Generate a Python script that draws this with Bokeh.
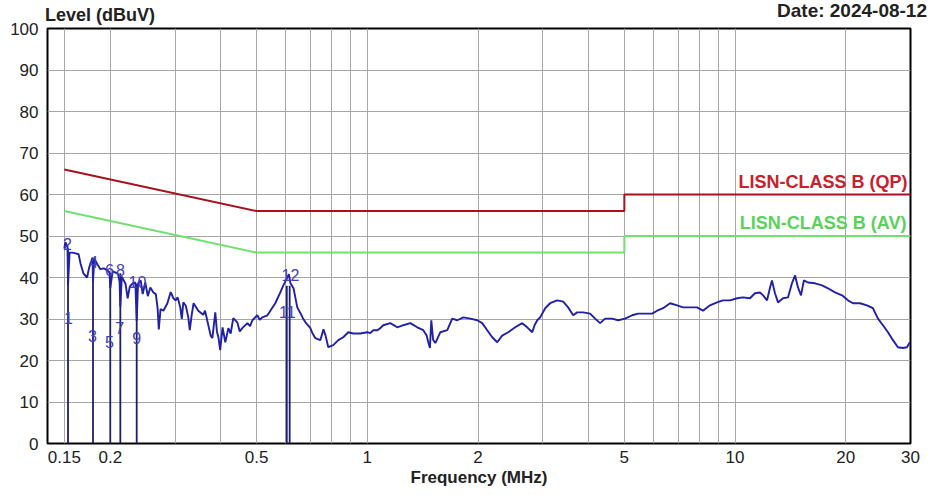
from bokeh.plotting import figure
from bokeh.layouts import column
from bokeh.models import (Range1d, FixedTicker, CustomJSTickFormatter, Label,
                          ColumnDataSource, Div)
from bokeh.core.properties import value
from bokeh.embed import file_html
from bokeh.resources import INLINE

# ---------------- data ----------------
y_title = "Level (dBuV)"
date_text = "Date: 2024-08-12"
x_title = "Frequency (MHz)"
qp_name = "LISN-CLASS B (QP)"
av_name = "LISN-CLASS B (AV)"

x_tick_values = [0.15, 0.2, 0.5, 1, 2, 5, 10, 20, 30]
x_grid_values = [0.15, 0.2, 0.3, 0.4, 0.5, 0.6, 0.7, 0.8, 0.9, 1, 2, 3, 4, 5,
                 6, 7, 8, 9, 10, 20, 30]
y_tick_values = [0, 10, 20, 30, 40, 50, 60, 70, 80, 90, 100]
y_grid_values = [10, 20, 30, 40, 50, 60, 70, 80, 90]

qp_freq = [0.15, 0.5, 5, 5, 30]
qp_level = [66, 56, 56, 60, 60]
av_freq = [0.15, 0.5, 5, 5, 30]
av_level = [56, 46, 46, 50, 50]

trace_freq = [
    0.150, 0.151, 0.153, 0.1535, 0.155, 0.158, 0.161, 0.164, 0.166, 0.169,
    0.173, 0.175, 0.177, 0.179, 0.1795, 0.181, 0.185, 0.188, 0.192, 0.196,
    0.199, 0.200, 0.203, 0.207, 0.210, 0.212, 0.213, 0.215, 0.220, 0.223,
    0.226, 0.230, 0.234, 0.236, 0.238, 0.242, 0.245, 0.249, 0.253, 0.257,
    0.262, 0.266, 0.269, 0.271, 0.274, 0.279, 0.286, 0.292, 0.297, 0.301,
    0.305, 0.310, 0.313, 0.316, 0.321, 0.326, 0.329, 0.333, 0.337, 0.347,
    0.358, 0.362, 0.368, 0.375, 0.379, 0.386, 0.390, 0.394, 0.398, 0.404,
    0.411, 0.419, 0.425, 0.432, 0.443, 0.450, 0.457, 0.472, 0.480, 0.487,
    0.502, 0.510, 0.518, 0.535, 0.545, 0.562, 0.580, 0.591, 0.600, 0.606,
    0.612, 0.618, 0.630, 0.645, 0.658, 0.668, 0.679, 0.700, 0.710, 0.722,
    0.745, 0.760, 0.770, 0.783, 0.808, 0.834, 0.860, 0.888, 0.916, 0.957,
    1.000, 1.019, 1.038, 1.065, 1.085, 1.105, 1.155, 1.206, 1.253, 1.309,
    1.367, 1.420, 1.450, 1.465, 1.480, 1.493, 1.510, 1.531, 1.579, 1.650,
    1.702, 1.757, 1.824, 1.905, 1.991, 2.053, 2.119, 2.186, 2.256, 2.327,
    2.416, 2.525, 2.638, 2.722, 2.808, 2.850, 2.898, 2.952, 3.046, 3.142,
    3.283, 3.409, 3.517, 3.629, 3.721, 3.863, 4.035, 4.164, 4.296, 4.432,
    4.631, 4.808, 5.024, 5.250, 5.451, 5.694, 5.950, 6.139, 6.373, 6.659,
    6.957, 7.224, 7.551, 7.881, 8.181, 8.548, 8.932, 9.273, 9.692, 10.13,
    10.51, 10.98, 11.33, 11.69, 11.92, 12.22, 12.45, 12.60, 12.84, 13.09,
    13.50, 13.93, 14.28, 14.56, 14.83, 15.11, 15.39, 15.79, 16.50, 17.24,
    17.89, 18.70, 19.54, 20.28, 20.93, 21.87, 22.84, 23.71, 24.47, 25.25,
    26.05, 26.88, 27.73, 28.61, 29.34, 29.89,
]
trace_level = [
    47.0, 48.5, 47.5, 38.0, 46.0, 46.0, 45.8, 45.6, 43.4, 41.0,
    40.0, 42.2, 43.6, 44.8, 39.0, 44.5, 43.0, 42.0, 42.2, 41.8,
    41.2, 37.5, 41.5, 41.2, 40.8, 39.0, 33.0, 40.2, 38.5, 35.0,
    37.8, 38.6, 38.8, 29.5, 38.6, 39.3, 36.0, 38.8, 35.5, 37.6,
    36.4, 36.0, 32.6, 27.5, 32.4, 32.0, 33.8, 36.5, 35.0, 34.5,
    35.2, 32.8, 30.0, 34.0, 33.2, 30.4, 27.3, 31.0, 33.8, 32.0,
    31.0, 32.0, 29.2, 26.0, 25.4, 31.6, 27.0, 25.4, 22.5, 28.0,
    24.4, 27.8, 26.5, 30.2, 29.2, 27.0, 27.8, 29.0, 28.3, 29.7,
    30.9, 29.8, 30.4, 30.9, 32.0, 33.8, 36.4, 38.1, 39.2, 40.0,
    40.8, 38.6, 37.4, 32.8, 31.4, 30.2, 29.2, 27.8, 26.5, 25.4,
    24.9, 27.5, 26.0, 23.2, 23.7, 24.9, 25.6, 26.8, 26.5, 26.5,
    26.8, 26.6, 27.3, 27.3, 27.8, 28.5, 29.0, 28.0, 28.5, 29.0,
    28.0, 27.3, 26.0, 24.4, 23.0, 29.7, 25.0, 24.2, 26.8, 27.3,
    30.1, 29.7, 30.4, 30.1, 29.7, 29.0, 27.3, 25.6, 24.4, 26.0,
    26.8, 28.0, 29.0, 28.0, 26.8, 28.5, 29.7, 30.4, 32.6, 33.8,
    34.5, 34.2, 32.8, 30.9, 31.6, 31.6, 31.3, 30.1, 29.0, 30.1,
    30.1, 29.7, 30.1, 30.9, 31.3, 31.3, 31.3, 32.0, 32.6, 33.8,
    33.3, 32.8, 32.8, 32.8, 32.0, 33.3, 34.0, 34.5, 34.5, 35.0,
    35.2, 35.0, 36.2, 36.4, 35.7, 34.5, 37.6, 39.3, 36.2, 34.0,
    35.0, 35.2, 38.6, 40.5, 37.6, 35.7, 39.3, 38.8, 38.6, 38.1,
    37.4, 36.4, 35.7, 34.5, 33.8, 33.8, 33.3, 32.6, 30.1, 28.5,
    26.8, 24.9, 23.2, 23.0, 23.2, 24.4,
]

marker_line_freq = [0.1535, 0.1795, 0.200, 0.213, 0.236, 0.604, 0.615]
marker_line_top = [47.0, 44.0, 41.0, 41.0, 38.5, 38.0, 38.0]

marker_text = ["2", "1", "4", "3", "6", "5", "8", "7", "10", "9", "12", "11"]
marker_text_freq = [0.153, 0.154, 0.180, 0.179, 0.199, 0.199, 0.213, 0.212,
                    0.237, 0.236, 0.618, 0.606]
marker_text_level = [48.0, 30.3, 43.8, 25.8, 41.8, 24.5, 41.8, 27.8,
                     39.0, 25.4, 40.5, 31.6]

# ---------------- header (outside the plot frame) ----------------
FONT = "Liberation Sans"
header_html = (
    '<div style="position:relative;width:928px;height:20px;'
    "font-family:'Liberation Sans',Arial,sans-serif;font-weight:bold;"
    'line-height:18px;color:#222222;white-space:nowrap;">'
    '<span style="position:absolute;left:45px;top:6px;font-size:18px;">'
    + y_title + '</span>'
    '<span style="position:absolute;right:1px;top:2px;font-size:19px;">'
    + date_text + '</span>'
    '</div>'
)
header = Div(text=header_html, width=928, height=20, margin=0)

# ---------------- figure ----------------
p = figure(width=928, height=473, x_axis_type="log",
           x_range=Range1d(0.135, 30), y_range=Range1d(0, 100),
           output_backend="svg", toolbar_location=None,
           min_border_left=47, min_border_right=18,
           min_border_top=8, min_border_bottom=50)

p.background_fill_color = "white"
p.border_fill_alpha = 0
p.outline_line_color = "black"
p.outline_line_width = 2

# axes
for ax in (p.xaxis, p.yaxis):
    ax.major_tick_line_color = None
    ax.minor_tick_line_color = None
    ax.axis_line_color = None
    ax.major_label_text_font = FONT
    ax.major_label_text_font_size = "17px"
    ax.major_label_text_color = "#222222"

p.xaxis.ticker = FixedTicker(ticks=x_tick_values)
p.xaxis.formatter = CustomJSTickFormatter(code="return tick.toString();")
p.xaxis.major_label_standoff = 1
p.xaxis.axis_label = x_title
p.xaxis.axis_label_text_font = FONT
p.xaxis.axis_label_text_font_size = "17px"
p.xaxis.axis_label_text_font_style = "bold"
p.xaxis.axis_label_text_color = "#222222"
p.xaxis.axis_label_standoff = 2

p.yaxis.ticker = FixedTicker(ticks=y_tick_values)
p.yaxis.major_label_standoff = 3

# grid
p.xgrid.ticker = FixedTicker(ticks=x_grid_values)
p.ygrid.ticker = FixedTicker(ticks=y_grid_values)
for g in (p.xgrid, p.ygrid):
    g.grid_line_color = "#a6a6a6"
    g.grid_line_width = 1

# limit lines
p.line(qp_freq, qp_level, line_color="#a8101e", line_width=2)
p.line(av_freq, av_level, line_color="#70e070", line_width=2)

# marker lines
mk_src = ColumnDataSource(dict(f=marker_line_freq, top=marker_line_top))
p.segment(x0="f", y0=0, x1="f", y1="top", source=mk_src,
          line_color="#1e1e70", line_width=1.8)

# measured trace
p.line(trace_freq, trace_level, line_color="#2020a8", line_width=1.9)

# marker numbers
txt_src = ColumnDataSource(dict(f=marker_text_freq, lv=marker_text_level,
                                t=marker_text))
p.text(x="f", y="lv", text="t", source=txt_src, text_align="center",
       text_baseline="middle", text_font=value(FONT),
       text_font_size="16px", text_color="#4040b8")

# limit labels
p.add_layout(Label(x=30, y=60, text=qp_name, text_align="right",
                   text_baseline="bottom", x_offset=-3, y_offset=3,
                   text_font=FONT, text_font_size="18px",
                   text_font_style="bold", text_color="#c8202c"))
p.add_layout(Label(x=30, y=50, text=av_name, text_align="right",
                   text_baseline="bottom", x_offset=-4, y_offset=3,
                   text_font=FONT, text_font_size="18px",
                   text_font_style="bold", text_color="#5ad25a"))

layout = column(header, p, spacing=0)

open("out.html", "w").write(file_html(layout, INLINE))
